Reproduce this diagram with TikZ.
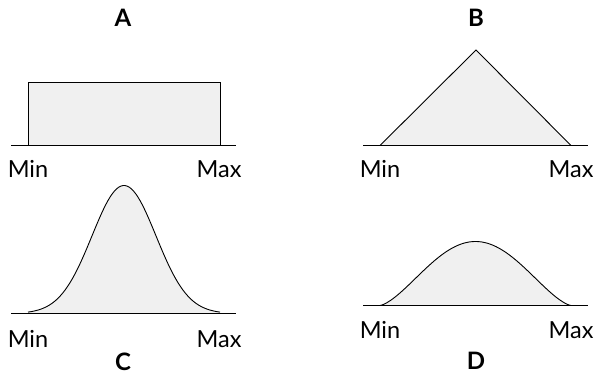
\documentclass[tikz,border=0pt]{standalone}
\usepackage{fontspec}
\setmainfont{Lato}
\definecolor{shade}{HTML}{F0F0F0}
\tikzset{
  axisline/.style={line width=0.9pt},
  areafill/.style={fill=shade},
  outline/.style={line width=0.9pt, line join=miter},
  endlabel/.style={anchor=base, inner sep=0pt, font=\fontsize{23.5}{28}\selectfont},
  caselabel/.style={anchor=base, inner sep=0pt, font=\fontsize{24}{28}\selectfont\bfseries},
}
\begin{document}
\begin{tikzpicture}[x=1pt,y=-1pt]
      \useasboundingbox (0,0) rectangle (595,375);
      % A: flat between min and max
      \node[caselabel] (labA) at (123,26) {A};
      \filldraw[areafill, outline] (28,145.5) rectangle (220,82);
      \draw[axisline] (11,145.5) -- (236,145.5);
      \node[endlabel] (minA) at (28,177) {Min};
      \node[endlabel] (maxA) at (219,177) {Max};
      % B: triangle
      \node[caselabel] (labB) at (476,26) {B};
      \filldraw[areafill, outline] (380,145.5) -- (476,50) -- (571,145.5) -- cycle;
      \draw[axisline] (363,145.5) -- (588,145.5);
      \node[endlabel] (minB) at (380,177) {Min};
      \node[endlabel] (maxB) at (571,177) {Max};
      % C: tall bell
      \fill[areafill] (28,313.5) -- plot[domain=-96:96, samples=90] ({124+\x}, {313.5-128*exp(-(\x*\x)/2048)}) -- (220,313.5) -- cycle;
      \draw[outline] plot[domain=-96:96, samples=90] ({124+\x}, {313.5-128*exp(-(\x*\x)/2048)});
      \draw[axisline] (11,313.5) -- (236,313.5);
      \node[endlabel] (minC) at (28,347) {Min};
      \node[endlabel] (maxC) at (219,347) {Max};
      \node[caselabel] (labC) at (123,370) {C};
      % D: low wide bell
      \fill[areafill] (380,305.5) -- plot[domain=-95.5:95.5, samples=90] ({475.5+\x}, {305.5-64*pow(abs(cos(90*\x/95.5))+0.0001,1.44)}) -- (571,305.5) -- cycle;
      \draw[outline] plot[domain=-95.5:95.5, samples=90] ({475.5+\x}, {305.5-64*pow(abs(cos(90*\x/95.5))+0.0001,1.44)});
      \draw[axisline] (363,305.5) -- (588,305.5);
      \node[endlabel] (minD) at (380,338) {Min};
      \node[endlabel] (maxD) at (571,338) {Max};
      \node[caselabel] (labD) at (476,369) {D};
\end{tikzpicture}
\end{document}
